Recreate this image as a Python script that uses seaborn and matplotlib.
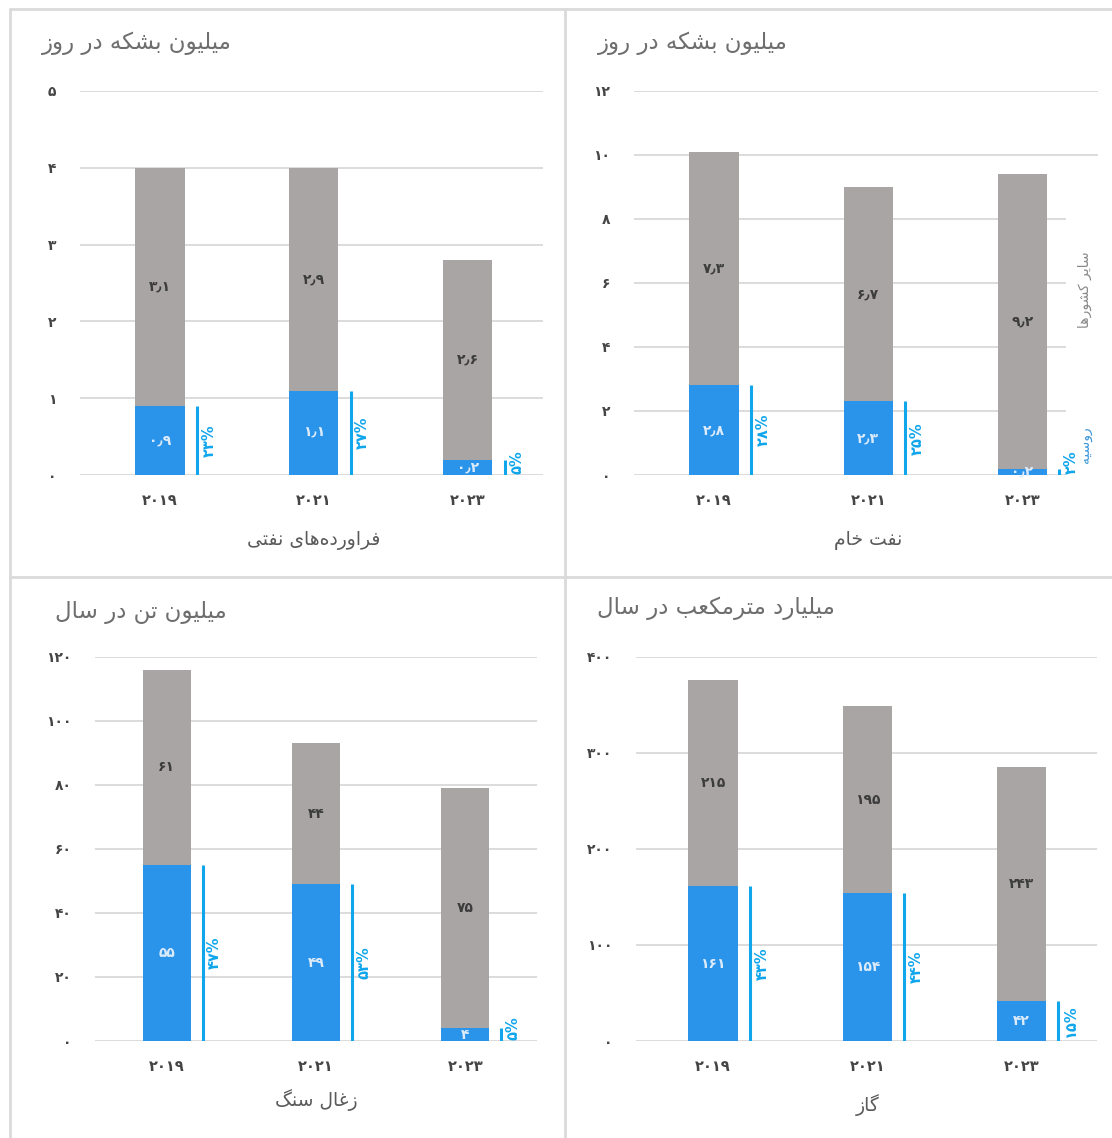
import matplotlib
matplotlib.use("Agg")
import matplotlib.pyplot as plt
import matplotlib.transforms as mtransforms
from matplotlib.lines import Line2D
from matplotlib.patches import Rectangle
import numpy as np
import seaborn as sns

# ---------------------------------------------------------------- data
years = ["2019", "2021", "2023"]

products_russia = [0.9, 1.1, 0.2]
products_others = [3.1, 2.9, 2.6]
products_share = [23, 27, 5]

crude_russia = [2.8, 2.3, 0.2]
crude_others = [7.3, 6.7, 9.2]
crude_share = [28, 25, 2]

coal_russia = [55, 49, 4]
coal_others = [61, 44, 75]
coal_share = [47, 53, 5]

gas_russia = [161, 154, 42]
gas_others = [215, 195, 243]
gas_share = [43, 44, 15]

unit_barrels = "میلیون بشکه در روز"
unit_tonnes = "میلیون تن در سال"
unit_cubic = "میلیارد مترمکعب در سال"

cat_products = "فراورده\u200cهای نفتی"
cat_crude = "نفت خام"
cat_coal = "زغال سنگ"
cat_gas = "گاز"

legend_others = "سایر کشورها"
legend_russia = "روسیه"

# ---------------------------------------------------------------- style
GRAY = "#A9A5A5"
BLUE = "#2A93EA"
CYAN = "#10A6EC"
GRID = "#DCDCDC"
TXT = "#454545"

sns.set_style("white")
plt.rcParams["font.family"] = ["DejaVu Sans"]

# ---------------------------------------------------------------- Persian text shaping
# (isolated, final, initial, medial) presentation forms
FORMS = {
    0x0627: (0xFE8D, 0xFE8E, None, None),
    0x0622: (0xFE81, 0xFE82, None, None),
    0x0628: (0xFE8F, 0xFE90, 0xFE91, 0xFE92),
    0x067E: (0xFB56, 0xFB57, 0xFB58, 0xFB59),
    0x062A: (0xFE95, 0xFE96, 0xFE97, 0xFE98),
    0x062B: (0xFE99, 0xFE9A, 0xFE9B, 0xFE9C),
    0x062C: (0xFE9D, 0xFE9E, 0xFE9F, 0xFEA0),
    0x0686: (0xFB7A, 0xFB7B, 0xFB7C, 0xFB7D),
    0x062D: (0xFEA1, 0xFEA2, 0xFEA3, 0xFEA4),
    0x062E: (0xFEA5, 0xFEA6, 0xFEA7, 0xFEA8),
    0x062F: (0xFEA9, 0xFEAA, None, None),
    0x0630: (0xFEAB, 0xFEAC, None, None),
    0x0631: (0xFEAD, 0xFEAE, None, None),
    0x0632: (0xFEAF, 0xFEB0, None, None),
    0x0698: (0xFB8A, 0xFB8B, None, None),
    0x0633: (0xFEB1, 0xFEB2, 0xFEB3, 0xFEB4),
    0x0634: (0xFEB5, 0xFEB6, 0xFEB7, 0xFEB8),
    0x0635: (0xFEB9, 0xFEBA, 0xFEBB, 0xFEBC),
    0x0636: (0xFEBD, 0xFEBE, 0xFEBF, 0xFEC0),
    0x0637: (0xFEC1, 0xFEC2, 0xFEC3, 0xFEC4),
    0x0638: (0xFEC5, 0xFEC6, 0xFEC7, 0xFEC8),
    0x0639: (0xFEC9, 0xFECA, 0xFECB, 0xFECC),
    0x063A: (0xFECD, 0xFECE, 0xFECF, 0xFED0),
    0x0641: (0xFED1, 0xFED2, 0xFED3, 0xFED4),
    0x0642: (0xFED5, 0xFED6, 0xFED7, 0xFED8),
    0x06A9: (0xFB8E, 0xFB8F, 0xFB90, 0xFB91),
    0x0643: (0xFB8E, 0xFB8F, 0xFB90, 0xFB91),
    0x06AF: (0xFB92, 0xFB93, 0xFB94, 0xFB95),
    0x0644: (0xFEDD, 0xFEDE, 0xFEDF, 0xFEE0),
    0x0645: (0xFEE1, 0xFEE2, 0xFEE3, 0xFEE4),
    0x0646: (0xFEE5, 0xFEE6, 0xFEE7, 0xFEE8),
    0x0647: (0xFEE9, 0xFEEA, 0xFEEB, 0xFEEC),
    0x0648: (0xFEED, 0xFEEE, None, None),
    0x06CC: (0xFBFC, 0xFBFD, 0xFBFE, 0xFBFF),
    0x064A: (0xFBFC, 0xFBFD, 0xFBFE, 0xFBFF),
}


def shape(text):
    """Join Persian letters into their contextual forms, in visual order."""
    out = []
    n = len(text)
    for i, ch in enumerate(text):
        f = FORMS.get(ord(ch))
        if f is None:
            if ch != "\u200c":
                out.append(ch)
            continue
        prev = FORMS.get(ord(text[i - 1])) if i > 0 else None
        nxt = FORMS.get(ord(text[i + 1])) if i < n - 1 else None
        join_prev = prev is not None and prev[2] is not None
        join_next = nxt is not None and f[2] is not None
        if join_prev and join_next:
            cp = f[3]
        elif join_prev:
            cp = f[1]
        elif join_next:
            cp = f[2]
        else:
            cp = f[0]
        out.append(chr(cp))
    return "".join(reversed(out))


DIGITS = str.maketrans("0123456789.", "۰۱۲۳۴۵۶۷۸۹٫")


def fa(s):
    return str(s).translate(DIGITS)


# ---------------------------------------------------------------- figure
W, H = 1112, 1138
fig = plt.figure(figsize=(W / 100, H / 100), dpi=100)
fig.patch.set_facecolor("white")


def px_rect(x0, y0, x1, y1):
    return [x0 / W, 1 - y1 / H, (x1 - x0) / W, (y1 - y0) / H]


BAR_W = 0.32


def panel(rect, russia, others, share, ymax, ystep, unit, unit_xy,
          category, cat_y, decimals, xlim):
    ax = fig.add_axes(px_rect(*rect))
    labels = [fa(y) for y in years]
    totals = [r + o for r, o in zip(russia, others)]

    sns.barplot(x=labels, y=totals, color=GRAY, width=BAR_W, saturation=1,
                errorbar=None, ax=ax, zorder=2, linewidth=0)
    sns.barplot(x=labels, y=russia, color=BLUE, width=BAR_W, saturation=1,
                errorbar=None, ax=ax, zorder=3, linewidth=0)

    ax.set_ylim(0, ymax)
    ax.set_xlim(*xlim)
    ticks = np.arange(0, ymax + ystep / 2, ystep)
    ax.set_yticks(ticks)
    ax.set_yticklabels([fa(int(t)) for t in ticks])
    ax.set_xlabel("")
    ax.set_ylabel("")
    for s in ax.spines.values():
        s.set_visible(False)
    ax.set_axisbelow(True)
    ax.yaxis.grid(True, color=GRID, linewidth=1.4)
    ax.xaxis.grid(False)
    ax.tick_params(axis="y", length=0, pad=17, labelsize=10, labelcolor=TXT)
    ax.tick_params(axis="x", length=0, pad=13, labelsize=10.5, labelcolor=TXT)
    for t in ax.get_xticklabels():
        t.set_fontweight("bold")
    for t in ax.get_yticklabels():
        t.set_fontweight("bold")

    fmt = (lambda v: fa(f"{v:.1f}")) if decimals else (lambda v: fa(f"{v:.0f}"))
    for i, (r, o, p) in enumerate(zip(russia, others, share)):
        ax.text(i, r / 2, fmt(r), ha="center", va="center", fontsize=10,
                fontweight="bold", color="#DCEBFA", zorder=5)
        ax.text(i, r + o / 2, fmt(o), ha="center", va="center", fontsize=10,
                fontweight="bold", color="#3C3C3C", zorder=5)
        lx = i + BAR_W / 2 + 0.08
        ax.vlines(lx, 0, r, color=CYAN, linewidth=2.2, zorder=5)
        if r / ymax < 0.06:
            ax.text(lx + 0.03, 0.003 * ymax, fa(p) + "%", rotation=90,
                    ha="left", va="bottom", fontsize=10.5, fontweight="bold",
                    color=CYAN, zorder=6)
        else:
            ax.text(lx + 0.03, r / 2, fa(p) + "%", rotation=90,
                    ha="left", va="center", fontsize=10.5, fontweight="bold",
                    color=CYAN, zorder=6)

    fig.text(unit_xy[0] / W, 1 - unit_xy[1] / H, shape(unit), ha="left",
             va="center", fontsize=16.5, color="#6E6E6E")
    tr = mtransforms.blended_transform_factory(ax.transData, fig.transFigure)
    ax.text(1, 1 - cat_y / H, shape(category), transform=tr, ha="center",
            va="center", fontsize=13.5, color="#5A5A5A")
    return ax


panel((80, 91, 543, 475), products_russia, products_others, products_share,
      5, 1, unit_barrels, (42, 43), cat_products, 541, True, (-0.52, 2.49))

ax_crude = panel((634, 91, 1098, 475), crude_russia, crude_others, crude_share,
                 12, 2, unit_barrels, (598, 43), cat_crude, 541, True,
                 (-0.52, 2.49))
# side legend for the crude oil panel
ax_crude.add_patch(Rectangle((2.28, 0), 0.3, 9.0, facecolor="white",
                             edgecolor="none", zorder=1.5))
ax_crude.text(2.405, 5.8, shape(legend_others), rotation=90, ha="center",
              va="center", fontsize=10, color="#8A8A8A", zorder=6)
ax_crude.text(2.405, 0.95, shape(legend_russia), rotation=90, ha="center",
              va="center", fontsize=10, color="#3C97DA", zorder=6)

panel((95, 657, 537, 1041), coal_russia, coal_others, coal_share,
      120, 20, unit_tonnes, (55, 612), cat_coal, 1100, False, (-0.48, 2.48))

panel((636, 657, 1097, 1041), gas_russia, gas_others, gas_share,
      400, 100, unit_cubic, (597, 608), cat_gas, 1105, False, (-0.5, 2.49))

# panel frames
frame = dict(color="#DADADA", linewidth=2, transform=fig.transFigure)
fig.add_artist(Line2D([10 / W, 1], [1 - 9 / H, 1 - 9 / H], **frame))
fig.add_artist(Line2D([10 / W, 10 / W], [0, 1 - 9 / H], **frame))
fig.add_artist(Line2D([565 / W, 565 / W], [0, 1 - 9 / H], **frame))
fig.add_artist(Line2D([10 / W, 1], [1 - 577 / H, 1 - 577 / H], **frame))

fig.savefig("out.png", dpi=100, facecolor="white")
